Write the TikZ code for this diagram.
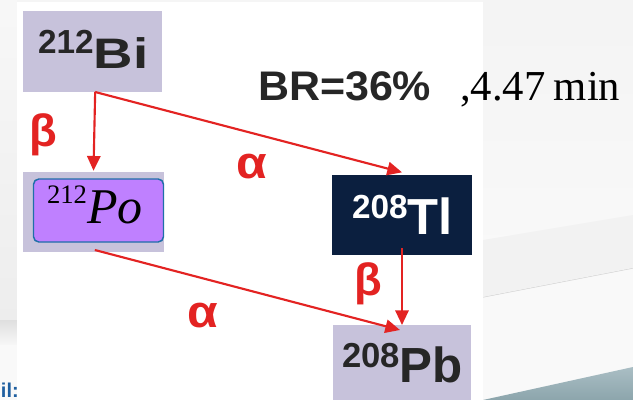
\documentclass[tikz,border=0pt]{standalone}
\usepackage{fontspec}
\setmainfont{Liberation Serif}
\newfontfamily\arial{Liberation Sans}
\usetikzlibrary{arrows.meta,calc}
\definecolor{boxlav}{HTML}{C7C2DB}
\definecolor{navy}{HTML}{0B1F3F}
\definecolor{pofill}{HTML}{BF80FF}
\definecolor{poedge}{HTML}{1F6FA8}
\definecolor{decayred}{HTML}{E32322}
\definecolor{txtdark}{HTML}{262626}
\definecolor{linkblue}{HTML}{1F5FA0}
\newcommand{\nucl}[6]{{\fontsize{#1}{#1}\selectfont\raisebox{#2}{#3}}\scalebox{#5}[1]{\fontsize{#4}{#4}\selectfont #6}}
\tikzset{
  plainbox/.style={draw=none, inner sep=0, outer sep=0},
  lbl/.style={inner sep=0, outer sep=0, anchor=base west},
  greek/.style={inner sep=0, outer sep=0, text=decayred, font=\arial\bfseries\fontsize{34}{34}\selectfont},
  arr/.style={draw=decayred, line width=1.6pt, -{Triangle[length=11pt,width=10pt]}},
}
\begin{document}
\begin{tikzpicture}[x=0.75pt,y=-0.75pt]
\clip (0,0) rectangle (633,400);
\useasboundingbox (0,0) rectangle (633,400);
% background
\fill[gray!8] (0,0) rectangle (633,400);
\shade[top color=gray!6, bottom color=gray!14] (0,0) rectangle (17,320);
\shade[top color=gray!25, bottom color=gray!6] (0,320) rectangle (17,345);
\fill[gray!5] (0,345) rectangle (17,400);
\node[anchor=base east, inner sep=0, text=linkblue, font=\arial\bfseries\fontsize{15}{15}\selectfont] (il) at (19,397) {il:};
% right region
\shade[top color=gray!9, bottom color=gray!4] (483,0) rectangle (633,300);
\fill[gray!5] (483,297) -- (633,268) -- (633,400) -- (483,400) -- cycle;
\draw[gray!35, line width=0.8pt] (483,297) -- (633,268);
\fill[gray!10] (483,240) -- (633,215) -- (633,268) -- (483,297) -- cycle;
\shade[top color={rgb,255:red,170;green,190;blue,196}, bottom color={rgb,255:red,140;green,165;blue,172}] (483,400) -- (633,367) -- (633,400) -- cycle;
% white panel
\fill[white] (17,2) rectangle (483,400);
% boxes
\node[plainbox, fill=boxlav, minimum width={139*0.75pt}, minimum height={81*0.75pt}] (bi) at (92.5,51.5) {};
\node[plainbox, fill=boxlav, minimum width={141*0.75pt}, minimum height={80*0.75pt}] (po) at (93.5,212) {};
\node[plainbox, fill=pofill, draw=poedge, line width=1.1pt, rounded corners=4pt, minimum width={130*0.75pt}, minimum height={63*0.75pt}] (poin) at (98.5,210.5) {};
\node[plainbox, fill=navy, minimum width={140*0.75pt}, minimum height={80*0.75pt}] (tl) at (402,215) {};
\node[plainbox, fill=boxlav, minimum width={138*0.75pt}, minimum height={80*0.75pt}] (pb) at (402,365) {};
% labels in boxes
\node[lbl, text=txtdark, font=\arial\bfseries] (bitxt) at (38,68) {\nucl{25}{11.25pt}{212}{32}{1.28}{Bi}};
\node[lbl, text=black] (potxt) at (47,223) {\nucl{20}{15pt}{212}{37.5}{1}{\itshape Po}};
\node[lbl, text=white, font=\arial\bfseries] (tltxt) at (352,234) {\nucl{25}{12pt}{208}{38}{1}{Tl}};
\node[lbl, text=txtdark, font=\arial\bfseries] (pbtxt) at (342,382) {\nucl{26}{11.25pt}{208}{37}{1}{Pb}};
% top texts
\node[lbl, text=txtdark, font=\arial\bfseries\fontsize{31}{31}\selectfont] (br) at (258,100) {\scalebox{1.04}[1]{BR=36\%}};
\node[lbl, text=black, font=\fontsize{32}{32}\selectfont] (hl) at (460,100) {,4.47\hspace{0.2em}min};
% arrows
\draw[arr] ([xshift=2pt]bi.south) -- ([yshift=1pt]po.north);
\draw[arr] ([xshift=2pt]bi.south) -- ([yshift=2pt]tl.north);
\draw[arr] ([yshift=5pt]tl.south) -- (pb.north);
\draw[arr] ([xshift=1pt, yshift=1.5pt]po.south) -- ($(pb.north)+(-2,5)$);
% greek labels
\node[greek] (b1) at (43,135) {β};
\node[greek] (a1) at (252,167) {\scalebox{1.1}[1]{α}};
\node[greek] (b2) at (368,284) {β};
\node[greek] (a2) at (203,316) {\scalebox{1.1}[1]{α}};
\end{tikzpicture}
\end{document}
